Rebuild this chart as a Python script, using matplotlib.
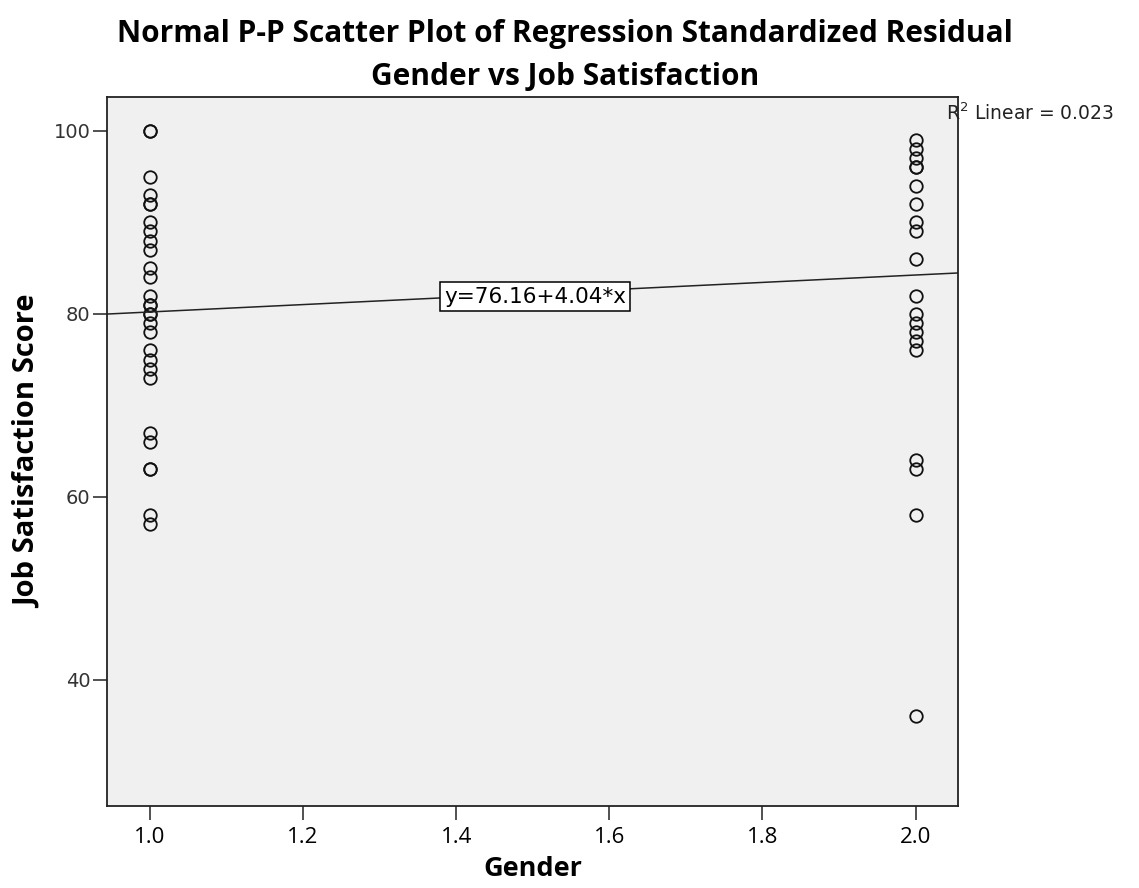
import matplotlib
matplotlib.use("Agg")
import matplotlib.pyplot as plt
from matplotlib import font_manager
import numpy as np

# ---- data ----
male_scores = [100, 100, 95, 93, 92, 92, 90, 89, 88, 87, 85, 84, 82, 81, 81, 80, 80, 79, 78,
               76, 75, 74, 73, 67, 66, 63, 63, 58, 57]
female_scores = [99, 98, 97, 96, 96, 94, 92, 90, 89, 86, 82, 80, 79, 78, 77, 76,
                 64, 63, 58, 36]
male_code = 1.0
female_code = 2.0
intercept = 76.16
slope = 4.04
r2 = 0.023
x_ticks = [1.0, 1.2, 1.4, 1.6, 1.8, 2.0]
y_ticks = [40, 60, 80, 100]

names = {f.name for f in font_manager.fontManager.ttflist}
def pick(*cands):
    for c in cands:
        if c in names:
            return c
    return "DejaVu Sans"

narrow = pick("Liberation Sans Narrow", "Open Sans", "Lato")
bold_font = pick("Open Sans", "Lato")

fig = plt.figure(figsize=(11.39, 8.88), dpi=100)
ax = fig.add_axes([0.0939, 0.0923, 0.747, 0.7985])
ax.set_facecolor("#f0f0f0")

ax.set_xlim(0.944, 2.055)
ax.set_ylim(26.2, 103.7)

ax.plot([male_code] * len(male_scores), male_scores, linestyle="none", marker="o",
        markersize=9, markerfacecolor="none", markeredgecolor="#111111", markeredgewidth=1.3)
ax.plot([female_code] * len(female_scores), female_scores, linestyle="none", marker="o",
        markersize=9, markerfacecolor="none", markeredgecolor="#111111", markeredgewidth=1.3)

xl = np.array(ax.get_xlim())
ax.plot(xl, intercept + slope * xl, color="#222222", linewidth=1.1)

ax.text(1.503, intercept + slope * 1.5 - 0.35, f"y={intercept:.2f}+{slope:.2f}*x",
        ha="center", va="center", fontsize=15.5, family="DejaVu Sans",
        bbox=dict(boxstyle="square,pad=0.2", facecolor="white", edgecolor="black", linewidth=1.1))

fig.text(0.8305, 0.873, f"R$^2$ Linear = {r2:.3f}", ha="left", va="center",
         fontsize=13.5, family="DejaVu Sans", color="#222222")

ax.set_xticks(x_ticks)
ax.set_xticklabels([f"{v:.1f}" for v in x_ticks], family=narrow, fontsize=16)
ax.set_yticks(y_ticks)
ax.set_yticklabels([str(v) for v in y_ticks], family="DejaVu Sans", fontsize=14, color="#333333")
ax.tick_params(axis="both", direction="out", length=10, width=1.2, color="#333333")
ax.tick_params(axis="x", pad=5)
ax.tick_params(axis="y", pad=2)

for s in ax.spines.values():
    s.set_linewidth(1.3)
    s.set_color("#222222")

ax.set_xlabel("Gender", family=bold_font, fontweight="bold", fontsize=19.5, labelpad=6)
ax.set_ylabel("Job Satisfaction Score", family=bold_font, fontweight="bold", fontsize=21, labelpad=8)

fig.text(0.496, 0.962, "Normal P-P Scatter Plot of Regression Standardized Residual",
         ha="center", va="center", fontsize=21.5, fontweight="bold", family=bold_font)
fig.text(0.496, 0.913, "Gender vs Job Satisfaction",
         ha="center", va="center", fontsize=21.5, fontweight="bold", family=bold_font)

fig.savefig("out.png", dpi=100)
